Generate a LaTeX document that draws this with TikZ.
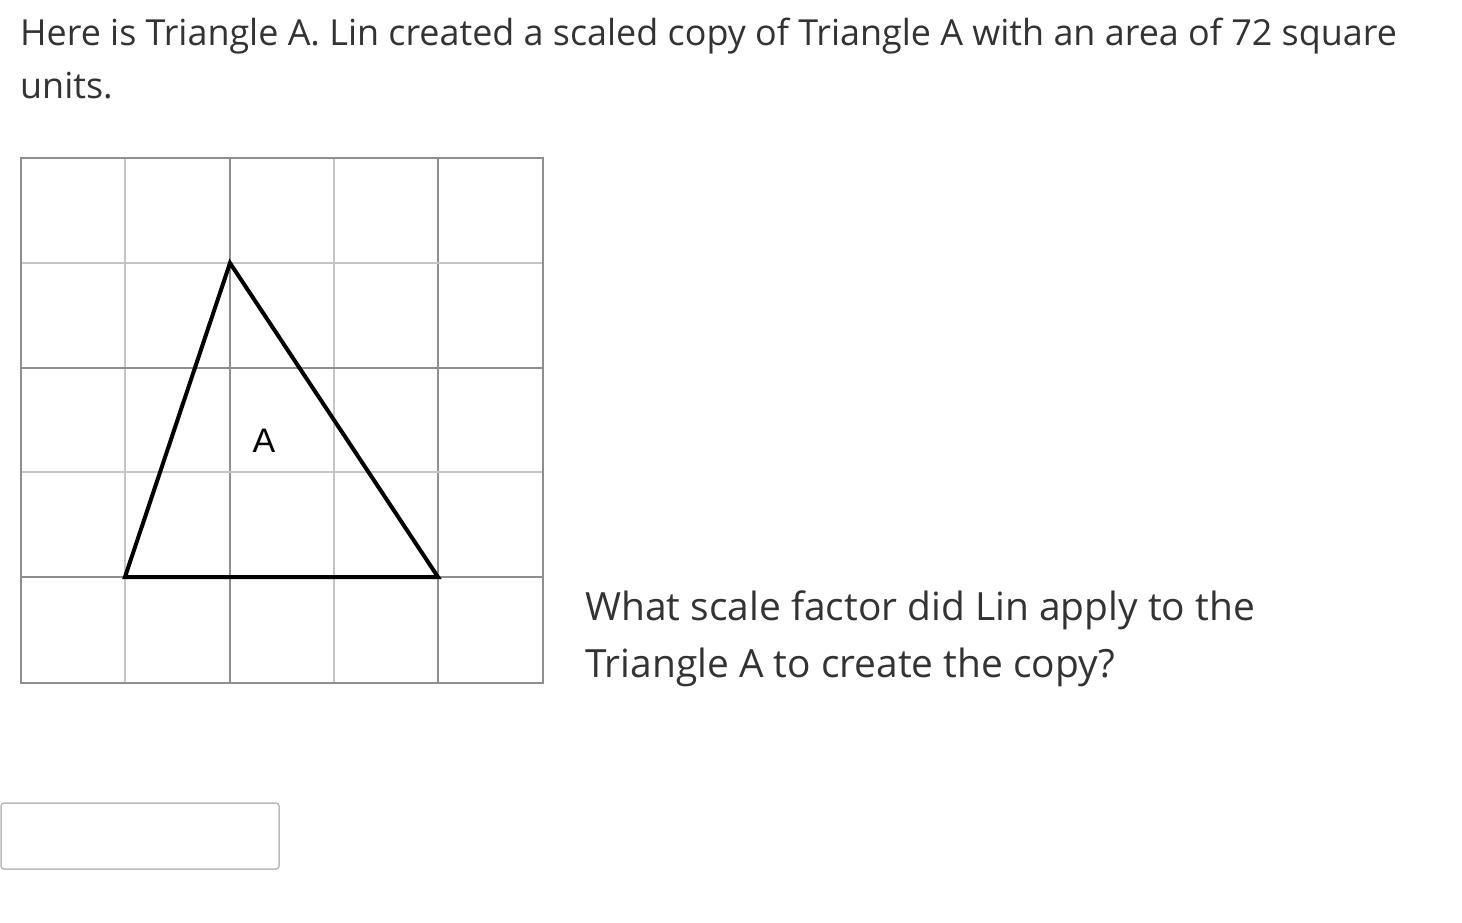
\documentclass[tikz,border=0pt]{standalone}
\usepackage{fontspec}
\setmainfont{Open Sans}
\newfontfamily\labelfont{Liberation Sans}
\definecolor{txt}{HTML}{333333}
\definecolor{gridlight}{HTML}{C4C4C4}
\definecolor{griddark}{HTML}{8E8E8E}
\definecolor{boxborder}{HTML}{BBBBBB}
\begin{document}
\begin{tikzpicture}[x=1pt,y=-1pt,
  prose/.style={anchor=base west, inner sep=0pt, text=txt},
  lightline/.style={draw=gridlight, line width=1.2pt},
  darkline/.style={draw=griddark, line width=1.2pt},
  tri/.style={draw=black, line width=4pt, line join=miter}]
\useasboundingbox[fill=white] (0,0) rectangle (1462,922);
% header text
\node[prose, font=\fontsize{35.9}{53}\selectfont] (l1) at (20,45) {Here is Triangle A. Lin created a scaled copy of Triangle A with an area of 72 square};
\node[prose, font=\fontsize{35.9}{53}\selectfont] (l2) at (20,98) {units.};
% grid
\foreach \x in {125,334} \draw[lightline] (\x,158) -- (\x,683);
\foreach \x in {230,438} \draw[darkline] (\x,158) -- (\x,683);
\foreach \y in {263,472} \draw[lightline] (21,\y) -- (543,\y);
\foreach \y in {368,577} \draw[darkline] (21,\y) -- (543,\y);
\draw[griddark, line width=1.5pt] (21,158) rectangle (543,683);
\draw[griddark, line width=2.2pt] (21,683) -- (543,683);
% triangle
\coordinate (p1) at (125,577);
\coordinate (p2) at (230,263);
\coordinate (p3) at (438,577);
\draw[tri] (p1) -- (p2) -- (p3) -- cycle;
\node[inner sep=0pt, anchor=base, font=\labelfont\fontsize{34}{34}\selectfont] (lab) at (264,452) {A};
% question
\node[prose, font=\fontsize{38.9}{57}\selectfont] (q1) at (585,620) {What scale factor did Lin apply to the};
\node[prose, font=\fontsize{38.9}{57}\selectfont] (q2) at (585,677) {Triangle A to create the copy?};
% answer box
\draw[boxborder, line width=1.5pt, rounded corners=3pt] (1,803) rectangle (279,869);
\end{tikzpicture}
\end{document}
